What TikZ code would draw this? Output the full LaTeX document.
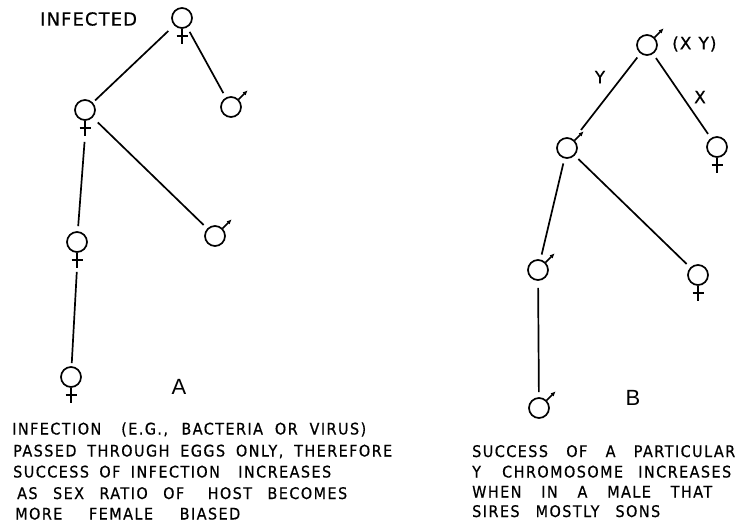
\documentclass[tikz,border=0pt]{standalone}
\usepackage{fontspec}
\setmainfont{Liberation Sans}
\newfontfamily\capfont{DejaVu Sans}[LetterSpace=9,FakeStretch=0.9,FakeBold=0.6]
\newfontfamily\lblfont{DejaVu Sans}[LetterSpace=6,FakeBold=0.6]
\usetikzlibrary{arrows.meta}
\newcommand\capline[2]{\makebox[#1pt][s]{#2}}
\begin{document}
\begin{tikzpicture}[x=1pt,y=-1pt,
  ind/.style={circle,draw,minimum size=20pt,inner sep=0pt,line width=1.7pt},
  conn/.style={line width=1.7pt,shorten <=5pt,shorten >=5pt},
  symline/.style={line width=1.7pt},
  lbl/.style={inner sep=0pt,font=\lblfont\fontsize{17}{20}\selectfont},
  big/.style={inner sep=0pt,font=\fontsize{22}{25}\selectfont},
  captxt/.style={anchor=base west,inner sep=0pt,font=\capfont\fontsize{16}{19}\selectfont}
]
\useasboundingbox (0,0) rectangle (740,523);

% ---------- Tree A ----------
\node[ind] (a0) at (182,18) {};
\node[ind] (a1) at (231,107) {};
\node[ind] (a2) at (85,110) {};
\node[ind] (a3) at (215,236) {};
\node[ind] (a4) at (77,242) {};
\node[ind] (a5) at (71,377) {};

% ---------- Tree B ----------
\node[ind] (b0) at (647,45) {};
\node[ind] (b1) at (567,148) {};
\node[ind] (b2) at (717,147) {};
\node[ind] (b3) at (538,270) {};
\node[ind] (b4) at (698,275) {};
\node[ind] (b5) at (539,408) {};

% female symbols
\foreach \n in {a0,a2,a4,a5,b2,b4}{
  \draw[symline] (\n.south) -- ++(0,15) coordinate (\n-t);
  \draw[symline] (\n.south) ++(-5.5,7) -- ++(11,0);
}
% male symbols
\foreach \n in {a1,a3,b0,b1,b3,b5}{
  \draw[symline,-{Latex[length=5pt,width=4.5pt]}] (\n.45) -- ++(9,-9);
}

% connectors A
\draw[conn,shorten <=8pt,shorten >=3pt] (a0) -- (a2);
\draw[conn] (a0) -- (a1);
\draw[conn,shorten <=7pt] (a2) -- (a3);
\draw[conn,shorten <=6pt] (a2-t) -- (a4);
\draw[conn,shorten <=4pt,shorten >=3pt] (a4-t) -- (a5);

% connectors B
\draw[conn,shorten >=12pt] (b0) -- (b1);
\draw[conn] (b0) -- (b2);
\draw[conn] (b1) -- (b3);
\draw[conn] (b1) -- (b4);
\draw[conn,shorten <=7pt] (b3) -- (b5);

% labels
\node[lbl,anchor=west,font=\lblfont\fontsize{18}{21}\selectfont] (inf) at (40,19) {INFECTED};
\node[lbl,anchor=west] (xy) at (672,44) {(X\hspace{7pt}Y)};
\node[lbl] (ylab) at (600,77) {Y};
\node[lbl] (xlab) at (700,97) {X};
\node[big] (labA) at (179,387) {A};
\node[big] (labB) at (633,398) {B};

% caption A
\node[captxt] (ca1) at (12,434.5) {\capline{354}{INFECTION\hspace{8pt} (E.G., BACTERIA OR VIRUS)}};
\node[captxt] (ca2) at (13,456.5) {\capline{379}{PASSED THROUGH EGGS ONLY, THEREFORE}};
\node[captxt] (ca3) at (13,477.5) {\capline{318}{SUCCESS OF INFECTION\hspace{8pt} INCREASES}};
\node[captxt] (ca4) at (17,499) {\capline{330}{AS SEX RATIO OF\hspace{8pt} HOST BECOMES}};
\node[captxt] (ca5) at (15,519.5) {\capline{225}{MORE FEMALE BIASED}};

% caption B
\node[captxt] (cb1) at (472,457) {\capline{263}{SUCCESS OF A PARTICULAR}};
\node[captxt] (cb2) at (472,477.5) {\capline{259}{Y\hspace{6pt} CHROMOSOME INCREASES}};
\node[captxt] (cb3) at (472,497.5) {\capline{240}{WHEN IN A MALE THAT}};
\node[captxt] (cb4) at (472,517) {\capline{188}{SIRES MOSTLY SONS}};
\end{tikzpicture}
\end{document}
